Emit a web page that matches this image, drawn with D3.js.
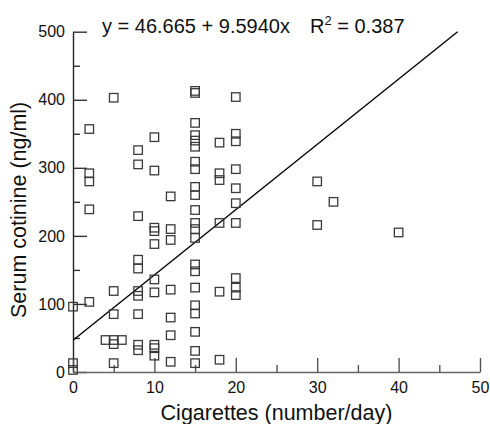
<!DOCTYPE html>
<html><head><meta charset="utf-8">
<script src="https://cdn.jsdelivr.net/npm/d3@7/dist/d3.min.js"></script>
<style>body{margin:0;background:#fff}svg{display:block}text{font-family:"Liberation Sans",Arial,sans-serif}</style>
</head><body><svg id="c" width="490" height="424"></svg>
<script>
// Data (cigarettes/day vs serum cotinine ng/ml)
const cigarettes = [
  0,0,0,
  2,2,2,2,2,
  4,
  5,5,5,5,5,5,
  6,
  8,8,8,8,8,8,8,8,8,8,
  10,10,10,10,10,10,10,10,10,10,
  12,12,12,12,12,12,12,
  15,15,15,15,15,15,15,15,15,15,15,15,15,15,15,15,15,15,15,15,15,15,
  18,18,18,18,18,18,
  20,20,20,20,20,20,20,20,20,20,
  30,30,
  32,
  40
];
const cotinine = [
  96,13,3,
  357,292,280,239,103,
  47,
  403,119,85,47,41,13,
  47,
  326,305,229,165,152,119,112,85,40,32,
  345,296,212,207,188,136,117,40,35,24,
  258,210,194,121,80,54,15,
  413,410,366,348,340,331,309,298,272,260,238,219,210,197,158,148,124,98,86,59,31,13,
  337,292,282,219,118,18,
  404,350,339,298,270,248,219,138,124,113,
  280,216,
  250,
  205
];
const xTicks = [0,10,20,30,40,50];
const xMinor = [5,15,25,35,45];
const yTicks = [0,100,200,300,400,500];
const yMinor = [50,150,250,350,450];
const intercept = 46.665, slope = 9.5940;
const eqText = "y = 46.665 + 9.5940x";
const r2Text = "0.387";
const xTitle = "Cigarettes (number/day)";
const yTitle = "Serum cotinine (ng/ml)";

const svg = d3.select("#c");
const x = d3.scaleLinear().domain([0,50]).range([73,480]);
const y = d3.scaleLinear().domain([0,500]).range([372,31.7]);

// Y axis
const gy = svg.append("g").attr("transform","translate(73,0)")
  .call(d3.axisLeft(y).tickValues(yTicks).tickSizeInner(-14).tickSizeOuter(0).tickPadding(8));
gy.selectAll("text").attr("font-size",16).attr("fill","#111").attr("font-family",'"Liberation Sans",Arial,sans-serif');
gy.select(".domain").attr("stroke","#222").attr("stroke-width",1.4);
gy.selectAll(".tick line").attr("stroke","#333").attr("stroke-width",1.4);
const gym = svg.append("g").attr("transform","translate(73,0)")
  .call(d3.axisLeft(y).tickValues(yMinor).tickSizeInner(-7).tickSizeOuter(0).tickFormat(""));
gym.select(".domain").remove();
gym.selectAll(".tick line").attr("stroke","#333").attr("stroke-width",1.4);

// X axis
const gx = svg.append("g").attr("transform","translate(0,372)")
  .call(d3.axisBottom(x).tickValues(xTicks).tickSizeInner(-14).tickSizeOuter(0).tickPadding(10));
gx.selectAll("text").attr("font-size",16).attr("fill","#111").attr("font-family",'"Liberation Sans",Arial,sans-serif');
gx.select(".domain").attr("stroke","#666").attr("stroke-width",1.5);
gx.selectAll(".tick line").attr("stroke","#555").attr("stroke-width",1.4);
const gxm = svg.append("g").attr("transform","translate(0,372)")
  .call(d3.axisBottom(x).tickValues(xMinor).tickSizeInner(-7).tickSizeOuter(0).tickFormat(""));
gxm.select(".domain").remove();
gxm.selectAll(".tick line").attr("stroke","#555").attr("stroke-width",1.4);

// Regression line
const xEnd = (500 - intercept) / slope;
svg.append("line")
  .attr("x1", x(0)).attr("y1", y(intercept))
  .attr("x2", x(xEnd)).attr("y2", y(intercept + slope*xEnd))
  .attr("stroke","#000").attr("stroke-width",1.4);

// Points
const pts = cigarettes.map((c,i)=>({c, v: cotinine[i]}));
const s = 8.5;
svg.append("g").selectAll("rect").data(pts).join("rect")
  .attr("x", d => x(d.c) - s/2).attr("y", d => y(d.v) - s/2)
  .attr("width", s).attr("height", s)
  .attr("fill","none").attr("stroke","#3a3a3a").attr("stroke-width",1.3);

// Equation
const t = svg.append("text").attr("y",33).attr("font-size",20).attr("fill","#111").style("white-space","pre");
t.append("tspan").attr("x",102).text(eqText);
t.append("tspan").attr("x",310).text("R");
t.append("tspan").attr("dy",-8).attr("font-size",13).text("2");
t.append("tspan").attr("dy",8).attr("font-size",20).text(" = " + r2Text);

// Axis titles
svg.append("text").attr("x", (x(0)+x(50))/2).attr("y", 420).attr("text-anchor","middle")
  .attr("font-size",21.5).attr("fill","#111").text(xTitle);
svg.append("text").attr("transform","translate(26,"+((y(0)+y(500))/2+8)+") rotate(-90)")
  .attr("text-anchor","middle").attr("font-size",21.5).attr("fill","#111").text(yTitle);
</script>
</body></html>
